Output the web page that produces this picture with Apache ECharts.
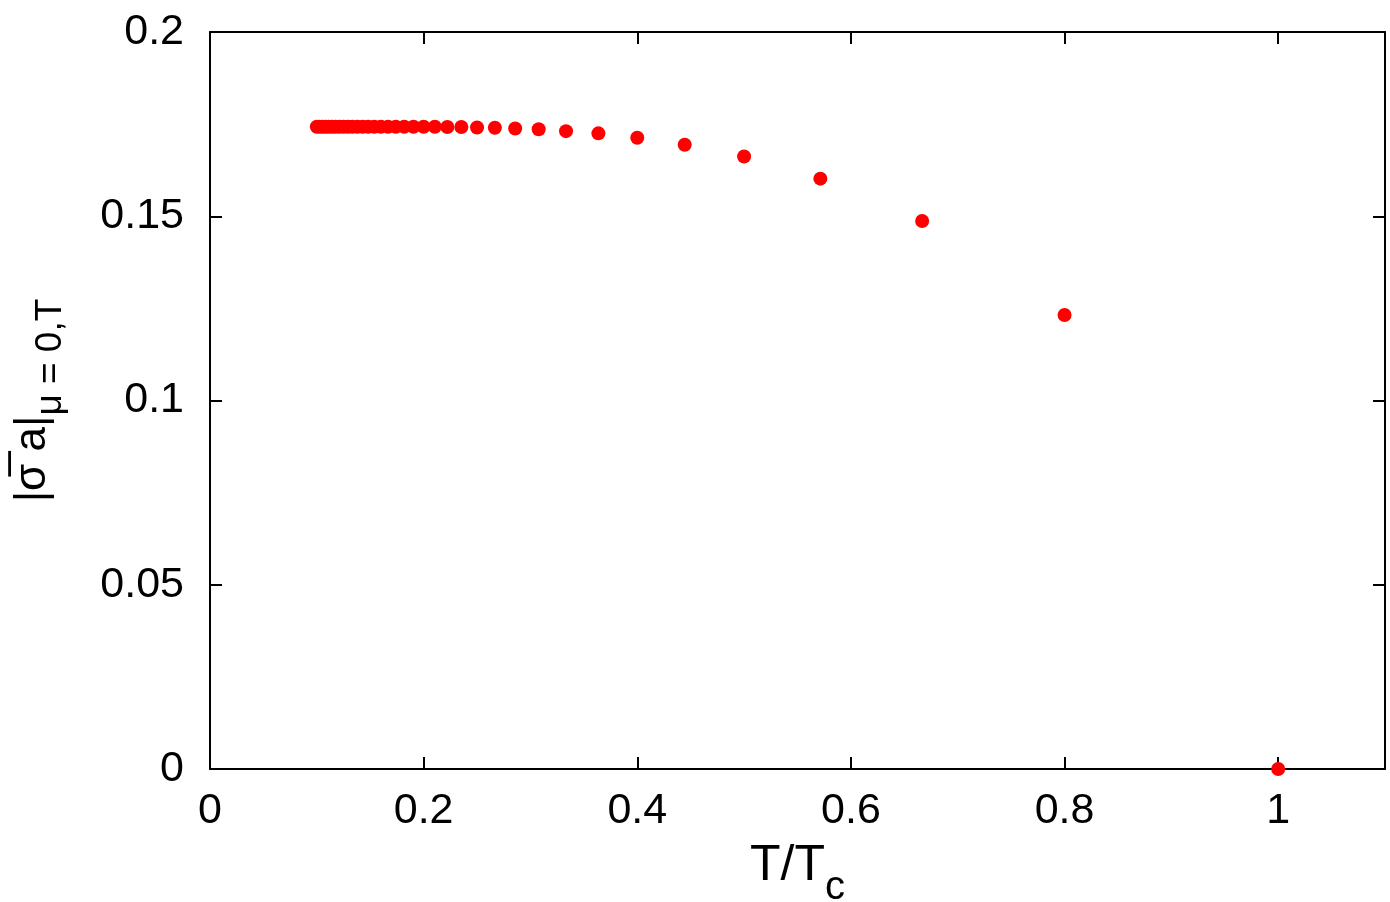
<!DOCTYPE html>
<html><head><meta charset="utf-8">
<script src="https://cdn.jsdelivr.net/npm/echarts@6/dist/echarts.min.js"></script>
<style>html,body{margin:0;padding:0;background:#fff}#c{width:1390px;height:902px}</style>
</head><body><div id="c"></div>
<script>
// T/Tc values
const tOverTc = [1, 0.8, 0.6667, 0.5714, 0.5, 0.4444, 0.4, 0.3636, 0.3333, 0.3077,
  0.2857, 0.2667, 0.25, 0.2353, 0.2222, 0.2105, 0.2, 0.1905, 0.1818, 0.1739,
  0.1667, 0.16, 0.1538, 0.1481, 0.1429, 0.1379, 0.1333, 0.129, 0.125, 0.1212,
  0.1176, 0.1143, 0.1111, 0.1081, 0.1053, 0.1026, 0.1];
// |sigma a| values at mu = 0
const sigmaA = [0, 0.1232, 0.1487, 0.1602, 0.1662, 0.1694, 0.1713, 0.1725, 0.1731, 0.1736,
  0.1738, 0.1740, 0.1741, 0.1742, 0.1742, 0.1743, 0.1743, 0.1743, 0.1743, 0.1743,
  0.1743, 0.1743, 0.1743, 0.1743, 0.1743, 0.1743, 0.1743, 0.1743, 0.1743, 0.1743,
  0.1743, 0.1743, 0.1743, 0.1743, 0.1743, 0.1743, 0.1743];
// axis tick settings
const xTicks = [0, 0.2, 0.4, 0.6, 0.8, 1];
const xRange = [0, 1.1];
const yTicks = [0, 0.05, 0.1, 0.15, 0.2];
const yRange = [0, 0.2];

const data = tOverTc.map((x, i) => [x, sigmaA[i]]);
const FONT = 'Liberation Sans, Arial, sans-serif';
const mkLine = () => ({ show: true, onZero: false, lineStyle: { color: '#000', width: 2 } });
const mkTick = () => ({ show: true, inside: true, length: 12, lineStyle: { color: '#000', width: 2 } });

const fmtFrom = list => v => {
  for (const t of list) if (Math.abs(v - t) < 1e-9) return String(t);
  return '';
};

const chart = echarts.init(document.getElementById('c'), null, { renderer: 'canvas' });
chart.setOption({
  animation: false,
  backgroundColor: '#fff',
  grid: { left: 210, top: 32, right: 5, bottom: 133, containLabel: false, outerBoundsMode: 'none' },
  xAxis: [
    {
      type: 'value', position: 'bottom', min: xRange[0], max: xRange[1], interval: xTicks[1] - xTicks[0],
      axisLine: mkLine(), axisTick: mkTick(), splitLine: { show: false },
      axisLabel: { show: true, color: '#000', fontFamily: FONT, fontSize: 43, margin: 21, formatter: fmtFrom(xTicks), showMaxLabel: false },
      name: '{a|T/T}{b|c}', nameLocation: 'middle', nameGap: 55,
      nameTextStyle: { color: '#000', fontFamily: FONT, rich: {
        a: { fontFamily: FONT, fontSize: 50, color: '#000', lineHeight: 50, verticalAlign: 'middle' },
        b: { fontFamily: FONT, fontSize: 40, color: '#000', lineHeight: 84, verticalAlign: 'bottom' }
      } }
    },
    {
      type: 'value', position: 'top', min: xRange[0], max: xRange[1], interval: xTicks[1] - xTicks[0],
      axisLine: mkLine(), axisTick: mkTick(), splitLine: { show: false },
      axisLabel: { show: false }
    }
  ],
  yAxis: [
    {
      type: 'value', position: 'left', min: yRange[0], max: yRange[1], interval: yTicks[1] - yTicks[0],
      axisLine: mkLine(), axisTick: mkTick(), splitLine: { show: false },
      axisLabel: { show: true, color: '#000', fontFamily: FONT, fontSize: 43, margin: 26, formatter: fmtFrom(yTicks) },
      name: '{a||σ\u0305 a|}{b|μ = 0,T}', nameLocation: 'middle', nameRotate: 90, nameGap: 141,
      nameTextStyle: { color: '#000', fontFamily: FONT, rich: {
        a: { fontFamily: FONT, fontSize: 44, color: '#000', lineHeight: 44, verticalAlign: 'middle' },
        b: { fontFamily: FONT, fontSize: 37, color: '#000', lineHeight: 72, verticalAlign: 'bottom' }
      } }
    },
    {
      type: 'value', position: 'right', min: yRange[0], max: yRange[1], interval: yTicks[1] - yTicks[0],
      axisLine: mkLine(), axisTick: mkTick(), splitLine: { show: false },
      axisLabel: { show: false }
    }
  ],
  series: [{
    type: 'scatter', xAxisIndex: 0, yAxisIndex: 0, data,
    symbol: 'circle', symbolSize: 14, clip: false,
    itemStyle: { color: '#ff0000', opacity: 1 }
  }]
});
</script></body></html>
